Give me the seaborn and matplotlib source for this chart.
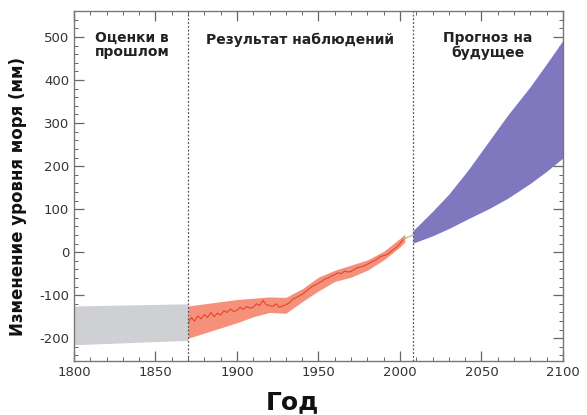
import numpy as np
import pandas as pd
import matplotlib
matplotlib.use("Agg")
import matplotlib.pyplot as plt
import seaborn as sns
from matplotlib.ticker import MultipleLocator

# past estimates (gray band)
past_years = [1800, 1870]
past_upper = [-125, -120]
past_lower = [-215, -205]

# observations (orange band + line)
obs_band_years = [1870, 1880, 1890, 1900, 1910, 1920, 1930, 1940, 1950, 1960, 1970, 1980, 1990, 2000, 2003]
obs_upper = [-125, -120, -115, -110, -107, -104, -105, -85, -58, -42, -30, -18, 2, 32, 42]
obs_lower = [-200, -188, -176, -164, -150, -140, -142, -115, -90, -68, -58, -42, -18, 12, 24]

obs_years = [1870, 1872, 1874, 1876, 1878, 1880, 1882, 1884, 1886, 1888, 1890, 1892, 1894, 1896,
             1898, 1900, 1902, 1904, 1906, 1908, 1910, 1912, 1914, 1916, 1918, 1920, 1922, 1924,
             1926, 1928, 1930, 1932, 1934, 1936, 1938, 1940, 1942, 1944, 1946, 1948, 1950, 1952,
             1954, 1956, 1958, 1960, 1962, 1964, 1966, 1968, 1970, 1972, 1974, 1976, 1978, 1980,
             1982, 1984, 1986, 1988, 1990, 1992, 1994, 1996, 1998, 2000, 2002]
obs_level = [-165, -152, -160, -148, -155, -145, -152, -140, -150, -142, -146, -136, -140, -132,
             -138, -135, -128, -133, -126, -130, -128, -120, -124, -112, -122, -124, -126, -120,
             -128, -125, -122, -118, -110, -106, -102, -98, -92, -86, -80, -76, -72, -68,
             -62, -60, -55, -52, -48, -50, -44, -46, -45, -40, -36, -34, -32, -28,
             -24, -20, -16, -10, -8, -6, 0, 6, 12, 20, 30]

# satellite segment
sat_years = [2002, 2008]
sat_level = [30, 40]

# projections (purple band)
proj_years = [2008, 2020, 2030, 2042, 2054, 2066, 2080, 2090, 2100]
proj_upper = [50, 95, 135, 192, 255, 318, 385, 438, 492]
proj_lower = [21, 38, 55, 78, 100, 125, 160, 188, 219]

sns.set_theme(style="ticks")
plt.rcParams['font.family'] = ['DejaVu Sans']
plt.rcParams['axes.unicode_minus'] = False

fig = plt.figure(figsize=(5.87, 4.15), dpi=100)
ax = fig.add_axes([0.126, 0.130, 0.833, 0.843])

ax.fill_between(past_years, past_lower, past_upper, color='#cfd0d3', lw=0)
ax.fill_between(obs_band_years, obs_lower, obs_upper, color='#f5917a', lw=0)
ax.fill_between(proj_years, proj_lower, proj_upper, color='#7f78be', lw=0)

df = pd.DataFrame({'year': obs_years, 'level': obs_level})
sns.lineplot(data=df, x='year', y='level', ax=ax, color='#e5452b', lw=0.8)
ax.plot(sat_years, sat_level, color='#a8c060', lw=0.8)

for xv in [1870, 2008]:
    ax.axvline(xv, color='#555555', lw=0.9, ls=(0, (1.5, 1.5)))

ax.set_xlim(1800, 2100)
ax.set_ylim(-253, 560)
ax.xaxis.set_major_locator(MultipleLocator(50))
ax.xaxis.set_minor_locator(MultipleLocator(10))
ax.yaxis.set_major_locator(MultipleLocator(100))
ax.yaxis.set_minor_locator(MultipleLocator(20))
ax.tick_params(which='both', direction='in', top=True, right=True, color='#666666',
               labelcolor='#333333', labelsize=9.5)
ax.tick_params(which='major', length=7, width=0.9)
ax.tick_params(which='minor', length=3, width=0.7)
for s in ax.spines.values():
    s.set_color('#777777')
    s.set_linewidth(1.0)

ax.text(1835.5, 481, 'Оценки в\nпрошлом', ha='center', va='center', fontsize=10,
        fontweight='bold', color='#222222', linespacing=1.05)
ax.text(1938.5, 493, 'Результат наблюдений', ha='center', va='center', fontsize=10,
        fontweight='bold', color='#222222')
ax.text(2054, 481, 'Прогноз на\nбудущее', ha='center', va='center', fontsize=10,
        fontweight='bold', color='#222222', linespacing=1.05)

ax.set_xlabel('Год', fontsize=18, fontweight='bold', color='#111111')
ax.xaxis.set_label_coords(0.446, -0.082, transform=ax.transAxes)
ax.xaxis.label.set_va('top')
ax.set_ylabel('Изменение уровня моря (мм)', fontsize=12, fontweight='bold', color='#111111')
ax.yaxis.set_label_coords(-0.097, 0.47, transform=ax.transAxes)

fig.savefig('out.png', dpi=100)
